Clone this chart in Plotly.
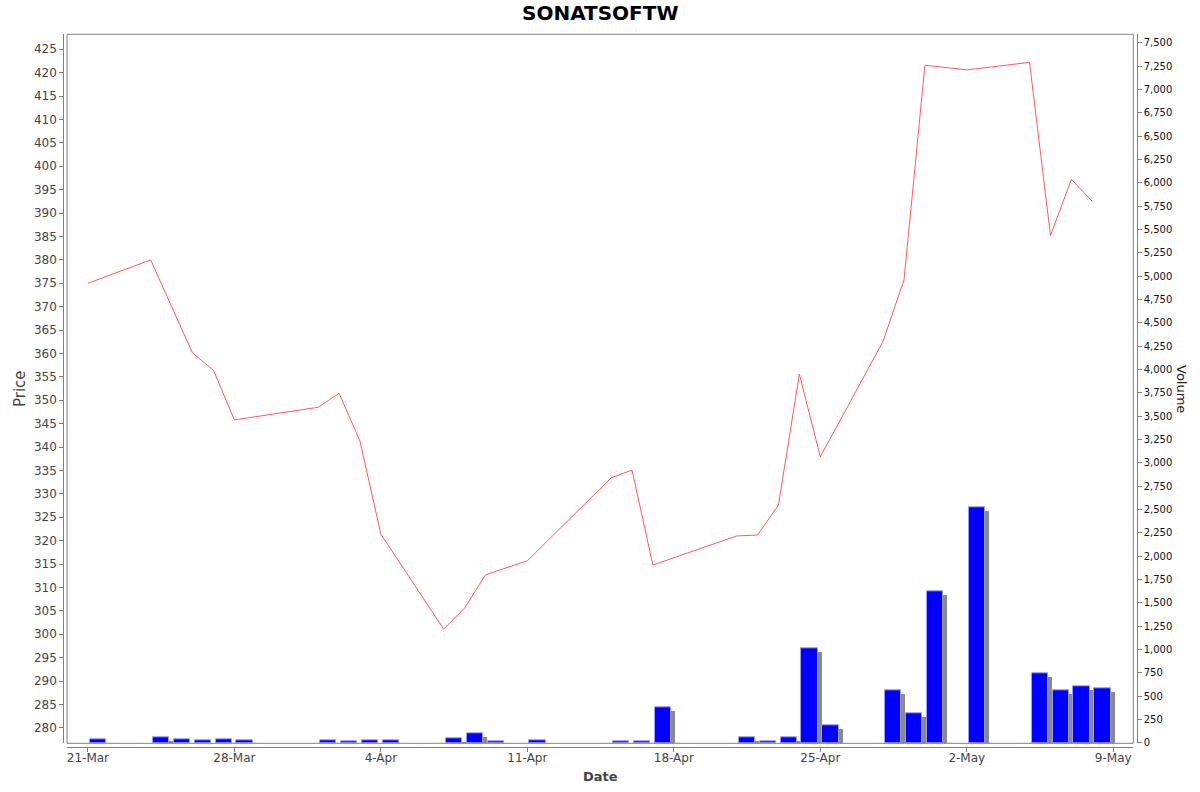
import plotly.graph_objects as go

title_text = "SONATSOFTW"
dates = ["2025-03-21", "2025-03-24", "2025-03-25", "2025-03-26", "2025-03-27", "2025-03-28",
         "2025-04-01", "2025-04-02", "2025-04-03", "2025-04-04", "2025-04-07", "2025-04-08",
         "2025-04-09", "2025-04-11", "2025-04-15", "2025-04-16", "2025-04-17", "2025-04-21",
         "2025-04-22", "2025-04-23", "2025-04-24", "2025-04-25", "2025-04-28", "2025-04-29",
         "2025-04-30", "2025-05-02", "2025-05-05", "2025-05-06", "2025-05-07", "2025-05-08"]
price = [375.0, 380.0, 370.0, 360.1, 356.4, 345.8,
         348.5, 351.5, 341.3, 321.4, 301.1, 305.6,
         312.7, 315.7, 333.4, 335.1, 314.8, 321.0,
         321.2, 327.6, 355.6, 337.9, 362.6, 375.7,
         421.6, 420.6, 422.2, 385.2, 397.2, 392.5]
volume = [40, 55, 35, 22, 38, 28,
          25, 20, 32, 32, 50, 103,
          21, 32, 18, 14, 378, 54,
          21, 54, 1018, 188, 566, 316,
          1625, 2527, 745, 562, 605, 584]
x_tick_vals = ["2025-03-21", "2025-03-28", "2025-04-04", "2025-04-11",
               "2025-04-18", "2025-04-25", "2025-05-02", "2025-05-09"]
x_tick_text = ["21-Mar", "28-Mar", "4-Apr", "11-Apr", "18-Apr", "25-Apr", "2-May", "9-May"]

# reference canvas is 1200x792; figure is drawn a little taller to offset
# the vertical squeeze observed in the capture
W, H0 = 1200, 792
H = 797
DAY = 86400000
L, R, T, B = 67, 1133.3, 34.3, 743.3
px_per_day = (R - L) / 50.96
vol_range = [-5, 7590]
vol_per_px = (vol_range[1] - vol_range[0]) / (B - T)


def px(x):
    return x / W


def py(y):
    return 1 - y / H0


FONT = "DejaVu Sans"
fig = go.Figure()

# shadow bars
fig.add_trace(go.Bar(
    x=dates, y=volume, base=-4 * vol_per_px, yaxis="y",
    offset=0.1 * DAY + 4 / px_per_day * DAY, width=0.77 * DAY,
    marker=dict(color="#8a8a8a", line=dict(width=0)),
    hoverinfo="skip", showlegend=False))
# volume bars
fig.add_trace(go.Bar(
    x=dates, y=volume, yaxis="y",
    offset=0.1 * DAY, width=0.77 * DAY,
    marker=dict(color="#0000ff", line=dict(color="#9a9aff", width=1)),
    name="Volume", showlegend=False))
# price line
fig.add_trace(go.Scatter(
    x=dates, y=price, yaxis="y2", mode="lines",
    line=dict(color="#ff5a5a", width=1), name="Price", showlegend=False))

xd = [px(L), px(R)]
yd = [py(B), py(T)]

fig.update_layout(
    width=W, height=H,
    margin=dict(l=0, r=0, t=0, b=0),
    paper_bgcolor="white", plot_bgcolor="white",
    font=dict(family=FONT, color="#444444"),
    barmode="overlay", bargap=0,
    xaxis=dict(
        domain=xd, anchor="free", position=py(747.3),
        type="date", range=["2025-03-20", "2025-05-09 23:00"],
        tickvals=x_tick_vals, ticktext=x_tick_text,
        ticks="outside", ticklen=4, tickcolor="#808080",
        ticklabelstandoff=-5,
        showline=True, linecolor="#808080", linewidth=1,
        showgrid=False, zeroline=False,
        tickfont=dict(size=12, color="#444444"),
    ),
    yaxis=dict(
        domain=yd, anchor="free", position=px(1136.7), side="right",
        range=vol_range, tickmode="linear", tick0=0, dtick=250,
        tickformat=",d",
        ticks="outside", ticklen=4, tickcolor="#808080",
        showline=True, linecolor="#808080", linewidth=1,
        showgrid=False, zeroline=False,
        tickfont=dict(size=10, color="#111111"),
    ),
    yaxis2=dict(
        domain=yd, anchor="free", position=px(63.3), side="left",
        overlaying="y",
        range=[276.7, 428.2], tickmode="linear", tick0=280, dtick=5,
        ticks="outside", ticklen=4, tickcolor="#808080",
        showline=True, linecolor="#808080", linewidth=1,
        showgrid=False, zeroline=False,
        tickfont=dict(size=12, color="#444444"),
    ),
    shapes=[dict(type="rect", xref="paper", yref="paper",
                 x0=xd[0], x1=xd[1], y0=yd[0], y1=yd[1],
                 line=dict(color="#808080", width=1), layer="above")],
    annotations=[
        dict(text="<b>" + title_text + "</b>", x=px(600), y=py(13), xref="paper", yref="paper",
             showarrow=False, font=dict(size=20, color="black", family=FONT),
             xanchor="center", yanchor="middle"),
        dict(text="Price", x=px(20), y=py(389), xref="paper", yref="paper",
             showarrow=False, textangle=-90, font=dict(size=15, color="#444444", family=FONT),
             xanchor="center", yanchor="middle"),
        dict(text="Volume", x=px(1182), y=py(389), xref="paper", yref="paper",
             showarrow=False, textangle=90, font=dict(size=13, color="#222222", family=FONT),
             xanchor="center", yanchor="middle"),
        dict(text="<b>Date</b>", x=px(600), y=py(776), xref="paper", yref="paper",
             showarrow=False, font=dict(size=13, color="#444444", family=FONT),
             xanchor="center", yanchor="middle"),
    ],
)

page_fix = "document.documentElement.style.margin='0';document.body.style.margin='0';"
fig.write_html("out.html", config={"displayModeBar": False}, post_script=page_fix)
